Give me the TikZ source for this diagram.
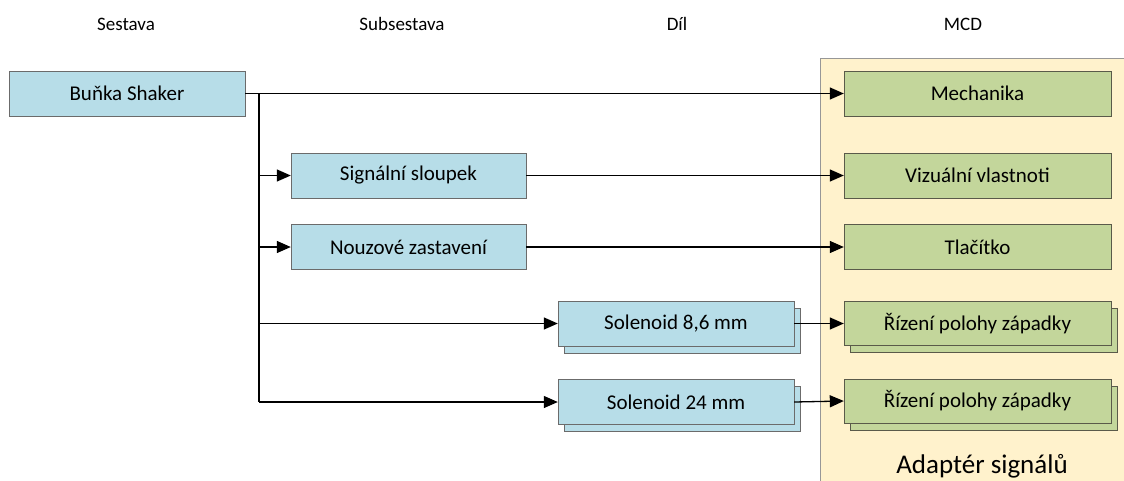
\documentclass[tikz,border=0pt]{standalone}
\usepackage{fontspec}
\setmainfont{Carlito}
\usetikzlibrary{arrows.meta,shadows}
\definecolor{bluefill}{HTML}{B7DDE8}
\definecolor{greenfill}{HTML}{C3D69B}
\definecolor{yellowfill}{HTML}{FFF2CC}
\definecolor{boxline}{HTML}{6B6B6B}
\definecolor{greenline}{HTML}{5A5A4A}
\begin{document}
\begin{tikzpicture}[x=1pt,y=-1pt,
  hdr/.style={font=\fontsize{19}{22}\selectfont},
  bluebox/.style={draw=boxline,fill=bluefill,minimum height=45pt,inner sep=0pt,font=\fontsize{21}{24}\selectfont},
  greenbox/.style={draw=greenline,fill=greenfill,minimum width=267pt,minimum height=45pt,inner sep=0pt,font=\fontsize{21}{24}\selectfont},
  stack/.style={copy shadow={shadow xshift=6pt,shadow yshift=-7pt}},
  conn/.style={line width=1.3pt,-{Triangle[length=14pt,width=12pt]}},
  plain/.style={line width=1.3pt}]
\useasboundingbox (0,0) rectangle (1124,480);
% adapter area
\node[draw=boxline!70,fill=yellowfill,minimum width=310pt,minimum height=430pt,inner sep=0pt,anchor=north west] (ad) at (820,57.5) {};
\node[font=\fontsize{27}{30}\selectfont] (adl) at (982,466) {Adaptér signálů};
% headers
\node[hdr] (h1) at (126,24) {Sestava};
\node[hdr] (h2) at (402,24) {Subsestava};
\node[hdr] (h3) at (677,24) {Díl};
\node[hdr] (h4) at (963,24) {MCD};
% blue boxes
\node[bluebox,minimum width=236pt] (b) at (127,93.5) {Buňka Shaker};
\node[bluebox,minimum width=235pt] (s1) at (408.5,175.5) {Signální sloupek};
\node[bluebox,minimum width=235pt] (s2) at (408.5,247) {Nouzové zastavení};
\node[bluebox,stack,minimum width=236pt] (d1) at (676,323.5) {Solenoid 8,6 mm};
\node[bluebox,stack,minimum width=236pt] (d2) at (676,402) {Solenoid 24 mm};
% green boxes
\node[greenbox] (g1) at (977.5,93.5) {Mechanika};
\node[greenbox] (g2) at (977.5,175.5) {Vizuální vlastnoti};
\node[greenbox] (g3) at (977.5,247) {Tlačítko};
\node[greenbox,stack,minimum height=44pt] (g4) at (977.5,323.5) {Řízení polohy západky};
\node[greenbox,stack,minimum height=44pt] (g5) at (977.5,401) {Řízení polohy západky};
% trunk
\coordinate (t0) at (259,93.5);
\coordinate (t5) at (259,402);
\draw[plain] (t0) -- (t5);
\draw[conn] (b.east) -- (g1.west);
\draw[conn] (s1.west -| t0) -- (s1.west);
\draw[conn] (s2.west -| t0) -- (s2.west);
\draw[conn] (d1.west -| t0) -- (d1.west);
\draw[conn] (t5) -- (d2.west);
\draw[conn] (s1.east) -- (g2.west);
\draw[conn] (s2.east) -- (g3.west);
\draw[conn] (d1.east) -- (g4.west);
\draw[conn] (d2.east) -- (g5.west);
\end{tikzpicture}
\end{document}
